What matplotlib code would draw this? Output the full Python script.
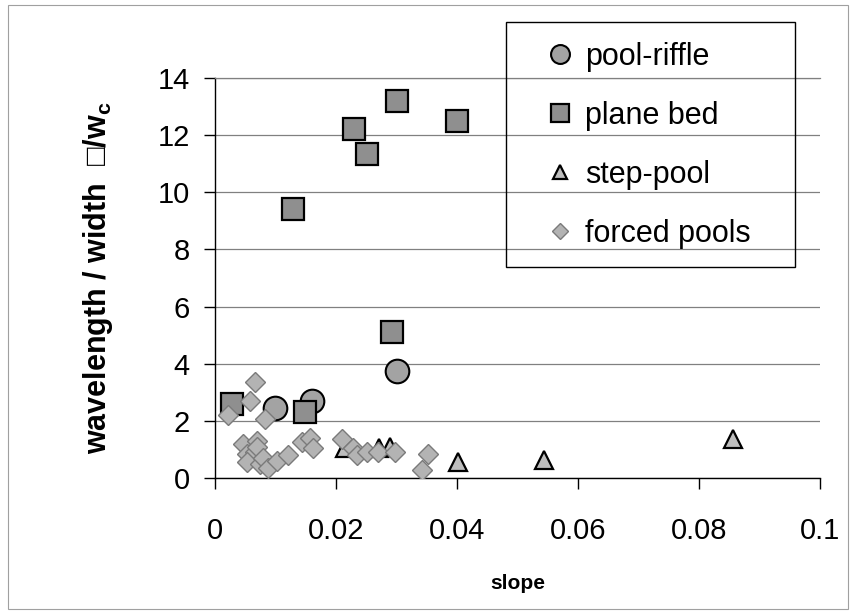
import matplotlib
matplotlib.use('Agg')
import matplotlib.pyplot as plt
from matplotlib.patches import Rectangle

plt.rcParams['font.family'] = ['Liberation Sans', 'DejaVu Sans']
plt.rcParams['mathtext.default'] = 'regular'

# slope vs wavelength/width for each bed type
riffle_slope = [0.0099, 0.0160, 0.0300]
riffle_ratio = [2.45, 2.70, 3.75]

plane_slope = [0.0028, 0.0129, 0.0149, 0.0230, 0.0251, 0.0293, 0.0301, 0.0400]
plane_ratio = [2.60, 9.40, 2.30, 12.20, 11.35, 5.10, 13.20, 12.50]

step_slope = [0.0215, 0.0271, 0.0290, 0.0402, 0.0544, 0.0857]
step_ratio = [1.05, 1.05, 1.10, 0.56, 0.63, 1.35]

forced_slope = [0.0021, 0.0058, 0.0066, 0.0083, 0.0046, 0.0053, 0.0069, 0.0066,
                0.0070, 0.0053, 0.0074, 0.0080, 0.0088, 0.0102, 0.0120, 0.0144,
                0.0157, 0.0162, 0.0210, 0.0228, 0.0235, 0.0251, 0.0270, 0.0298,
                0.0352, 0.0342]
forced_ratio = [2.20, 2.70, 3.35, 2.05, 1.20, 0.85, 1.30, 0.90,
                1.10, 0.55, 0.50, 0.70, 0.35, 0.60, 0.80, 1.25,
                1.40, 1.05, 1.35, 1.05, 0.80, 0.90, 0.90, 0.90,
                0.85, 0.28]

xticks = [0, 0.02, 0.04, 0.06, 0.08, 0.1]
xtick_labels = ['0', '0.02', '0.04', '0.06', '0.08', '0.1']
yticks = [0, 2, 4, 6, 8, 10, 12, 14]

W, H = 851, 613
fig = plt.figure(figsize=(W / 100, H / 100), dpi=100)
ax = fig.add_axes([215 / W, 1 - 478 / H, 605 / W, 400 / H])

# outer chart border
fig.patches.append(Rectangle((8 / W, 4 / H), 840 / W, 604 / H, transform=fig.transFigure,
                             fill=False, edgecolor='#a0a0a0', lw=0.8))

h1, = ax.plot(riffle_slope, riffle_ratio, 'o', ms=17, mfc='#a3a3a3', mec='black', mew=1.5,
              label='pool-riffle', zorder=3)
h2, = ax.plot(plane_slope, plane_ratio, 's', ms=15.5, mfc='#8f8f8f', mec='black', mew=1.6,
              label='plane bed', zorder=3)
h3, = ax.plot(step_slope, step_ratio, '^', ms=13, mfc='#bdbdbd', mec='black', mew=1.6,
              label='step-pool', zorder=3)
h4, = ax.plot(forced_slope, forced_ratio, 'D', ms=10.5, mfc='#b3b3b3', mec='#7a7a7a', mew=1.0,
              label='forced pools', zorder=4)

ax.set_xlim(0, 0.1)
ax.set_ylim(0, 14)
ax.set_xticks(xticks)
ax.set_xticklabels(xtick_labels)
ax.set_yticks(yticks)
ax.tick_params(axis='both', labelsize=21, direction='out', length=8, width=1, color='black')
ax.tick_params(axis='x', pad=20)
ax.tick_params(axis='y', pad=10)

ax.grid(axis='y', color='#808080', lw=0.9, zorder=0)
ax.set_axisbelow(True)
ax.spines['right'].set_visible(False)
ax.spines['top'].set_color('#808080')
ax.spines['top'].set_linewidth(0.9)
ax.spines['left'].set_linewidth(1.0)
ax.spines['bottom'].set_linewidth(1.0)

ax.set_xlabel('slope', fontsize=15, fontweight='bold')
ax.xaxis.set_label_coords(0.5, -0.24)
ax.set_ylabel('wavelength / width  \u25a1/w$_{c}$', fontsize=22, fontweight='bold')
ax.yaxis.set_label_coords(-0.165, 0.5)

# legend box drawn separately, entries placed inside
fig.patches.append(Rectangle((506 / W, 1 - 267 / H), 289 / W, 245 / H, transform=fig.transFigure,
                             fill=False, edgecolor='black', lw=1.0, zorder=5))
ax.legend(handles=[h1, h2, h3, h4], loc='upper left', frameon=False, fontsize=22,
          bbox_to_anchor=(545 / W, 1 - 42 / H), bbox_transform=fig.transFigure,
          borderpad=0, borderaxespad=0, handlelength=1.0, handletextpad=0.3,
          labelspacing=0.95, markerscale=0.8)

fig.savefig('out.png', dpi=100)
